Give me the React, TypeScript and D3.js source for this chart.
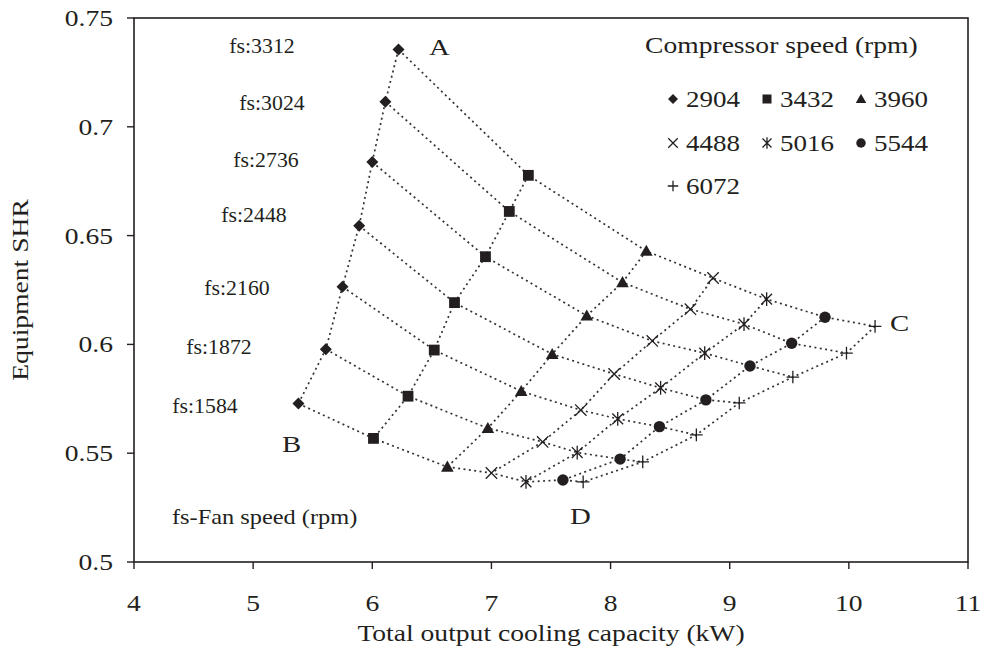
import React from "react";
import * as d3 from "d3";

const fanSpeeds = [3312, 3024, 2736, 2448, 2160, 1872, 1584];
const compSpeeds = [2904, 3432, 3960, 4488, 5016, 5544, 6072];

// capacity (kW) per compressor speed, ordered by fan speed (3312 -> 1584)
const cap2904 = [6.22, 6.11, 6.0, 5.89, 5.75, 5.61, 5.38];
const cap3432 = [7.31, 7.15, 6.95, 6.69, 6.52, 6.3, 6.01];
const cap3960 = [8.3, 8.1, 7.8, 7.51, 7.25, 6.97, 6.63];
const cap4488 = [8.86, 8.67, 8.35, 8.03, 7.75, 7.43, 7.0];
const cap5016 = [9.31, 9.12, 8.79, 8.42, 8.06, 7.72, 7.29];
const cap5544 = [9.8, 9.52, 9.17, 8.8, 8.41, 8.08, 7.6];
const cap6072 = [10.22, 9.98, 9.53, 9.08, 8.72, 8.27, 7.77];

// equipment SHR per compressor speed, ordered by fan speed (3312 -> 1584)
const shr2904 = [0.7355, 0.7115, 0.6838, 0.6545, 0.6265, 0.5978, 0.5728];
const shr3432 = [0.6777, 0.6611, 0.6403, 0.6192, 0.5974, 0.5762, 0.5568];
const shr3960 = [0.6429, 0.6285, 0.6132, 0.5955, 0.5785, 0.5615, 0.5437];
const shr4488 = [0.6305, 0.6162, 0.6016, 0.5864, 0.5698, 0.5552, 0.5409];
const shr5016 = [0.6208, 0.6093, 0.5960, 0.5800, 0.5658, 0.5503, 0.5368];
const shr5544 = [0.6125, 0.6005, 0.5901, 0.5745, 0.5622, 0.5473, 0.5377];
const shr6072 = [0.6083, 0.5960, 0.5850, 0.5731, 0.5584, 0.5460, 0.5368];

const capSeries = [cap2904, cap3432, cap3960, cap4488, cap5016, cap5544, cap6072];
const shrSeries = [shr2904, shr3432, shr3960, shr4488, shr5016, shr5544, shr6072];
const markerKinds = ["diamond", "square", "triangle", "cross", "asterisk", "circle", "plus"];

const xTicks = [4, 5, 6, 7, 8, 9, 10, 11];
const yTicks = [0.5, 0.55, 0.6, 0.65, 0.7, 0.75];
const yTickLabels = ["0.5", "0.55", "0.6", "0.65", "0.7", "0.75"];
const cornerLabels = ["A", "B", "C", "D"];

const W = 990;
const H = 658;
const FONT = "'Liberation Serif', 'Times New Roman', serif";
const INK = "#231f20";

function T({
  x,
  y,
  size,
  anchor = "start",
  rotate = 0,
  sx = 1.2,
  children,
}: {
  x: number;
  y: number;
  size: number;
  anchor?: string;
  rotate?: number;
  sx?: number;
  children: React.ReactNode;
}) {
  return (
    <text
      transform={`translate(${x},${y}) rotate(${rotate}) scale(${sx},1)`}
      textAnchor={anchor}
      fontSize={size}
      fill={INK}
    >
      {children}
    </text>
  );
}

function Marker({ kind, x, y, r }: { kind: string; x: number; y: number; r: number }) {
  const t = `translate(${x},${y})`;
  if (kind === "diamond")
    return <path transform={t} d={`M0,${-r}L${r},0L0,${r}L${-r},0Z`} fill={INK} />;
  if (kind === "square")
    return <rect x={x - r * 0.9} y={y - r * 0.9} width={r * 1.8} height={r * 1.8} fill={INK} />;
  if (kind === "triangle")
    return (
      <path transform={t} d={`M0,${-r * 1.05}L${r * 1.05},${r * 0.8}L${-r * 1.05},${r * 0.8}Z`} fill={INK} />
    );
  if (kind === "circle") return <circle cx={x} cy={y} r={r * 0.95} fill={INK} />;
  if (kind === "cross") {
    const a = r * 0.95;
    return (
      <path transform={t} d={`M${-a},${-a}L${a},${a}M${-a},${a}L${a},${-a}`} stroke={INK} strokeWidth={1.3} fill="none" />
    );
  }
  if (kind === "asterisk") {
    const a = r * 0.9;
    const b = r * 1.15;
    return (
      <path
        transform={t}
        d={`M${-a},${-a}L${a},${a}M${-a},${a}L${a},${-a}M0,${-b}L0,${b}`}
        stroke={INK}
        strokeWidth={1.3}
        fill="none"
      />
    );
  }
  const p = r * 1.05;
  return <path transform={t} d={`M${-p},0L${p},0M0,${-p}L0,${p}`} stroke={INK} strokeWidth={1.3} fill="none" />;
}

export default function App() {
  const x = d3.scaleLinear().domain([4, 11]).range([134, 968]);
  const y = d3.scaleLinear().domain([0.5, 0.75]).range([562, 18]);
  const line = d3
    .line<[number, number]>()
    .x((d) => x(d[0]))
    .y((d) => y(d[1]));

  // lines of constant compressor speed
  const compLines = capSeries.map((cs, i) => cs.map((c, j) => [c, shrSeries[i][j]] as [number, number]));
  // lines of constant fan speed
  const fanLines = fanSpeeds.map((_, j) => capSeries.map((cs, i) => [cs[j], shrSeries[i][j]] as [number, number]));

  const dotted = { stroke: "#333", strokeWidth: 1.7, strokeDasharray: "2,3.4", fill: "none" };

  const fsLabelPos: [number, number][] = [
    [262, 53],
    [272, 110],
    [266, 167],
    [254, 222],
    [237, 295],
    [219, 354],
    [205, 413],
  ];

  const legendCols = [673, 767, 861];
  const legendRows = [99, 143, 186];

  return (
    <svg
      width={W}
      height={H}
      style={{ position: "absolute", left: 0, top: 0, background: "#fff" }}
      fontFamily={FONT}
    >
      <rect width={W} height={H} fill="#fff" />
      {/* frame */}
      <rect x={x(4)} y={y(0.75)} width={x(11) - x(4)} height={y(0.5) - y(0.75)} fill="none" stroke={INK} strokeWidth={1.6} />
      {/* x ticks */}
      {xTicks.map((t) => (
        <g key={"xt" + t}>
          <line x1={x(t)} x2={x(t)} y1={y(0.5)} y2={y(0.5) + 7} stroke={INK} strokeWidth={1.4} />
          <T x={x(t)} y={611} size={23} anchor="middle">
            {t}
          </T>
        </g>
      ))}
      {/* y ticks */}
      {yTicks.map((t, i) => (
        <g key={"yt" + t}>
          <line x1={x(4) - 7} x2={x(4)} y1={y(t)} y2={y(t)} stroke={INK} strokeWidth={1.4} />
          <T x={113} y={y(t) + 8} size={23} anchor="end">
            {yTickLabels[i]}
          </T>
        </g>
      ))}
      <T x={551} y={641} size={23} anchor="middle">
        Total output cooling capacity (kW)
      </T>
      <T x={28} y={290} size={23} anchor="middle" rotate={-90}>
        Equipment SHR
      </T>

      {/* grid lines */}
      {fanLines.map((l, i) => (
        <path key={"fl" + i} d={line(l) || ""} {...dotted} />
      ))}
      {compLines.map((l, i) => (
        <path key={"cl" + i} d={line(l) || ""} {...dotted} />
      ))}

      {/* markers */}
      {capSeries.map((cs, i) =>
        cs.map((c, j) => (
          <Marker key={`m${i}-${j}`} kind={markerKinds[i]} x={x(c)} y={y(shrSeries[i][j])} r={6} />
        ))
      )}

      {/* fan speed labels */}
      {fanSpeeds.map((f, j) => (
        <T key={"fs" + f} x={fsLabelPos[j][0]} y={fsLabelPos[j][1]} size={20} sx={1.09} anchor="middle">
          {"fs:" + f}
        </T>
      ))}
      <T x={172} y={524} size={21} sx={1.16}>
        fs-Fan speed (rpm)
      </T>

      {/* corner labels */}
      <T x={429} y={55} size={24}>{cornerLabels[0]}</T>
      <T x={282} y={452} size={24}>{cornerLabels[1]}</T>
      <T x={890} y={331} size={24}>{cornerLabels[2]}</T>
      <T x={570} y={524} size={24}>{cornerLabels[3]}</T>

      {/* legend */}
      <T x={645} y={53} size={23}>
        Compressor speed (rpm)
      </T>
      {compSpeeds.map((s, i) => {
        const cx = legendCols[i % 3];
        const cy = legendRows[Math.floor(i / 3)];
        return (
          <g key={"lg" + s}>
            <Marker kind={markerKinds[i]} x={cx} y={cy} r={5} />
            <T x={cx + 13} y={cy + 8} size={22.5}>
              {s}
            </T>
          </g>
        );
      })}
    </svg>
  );
}
